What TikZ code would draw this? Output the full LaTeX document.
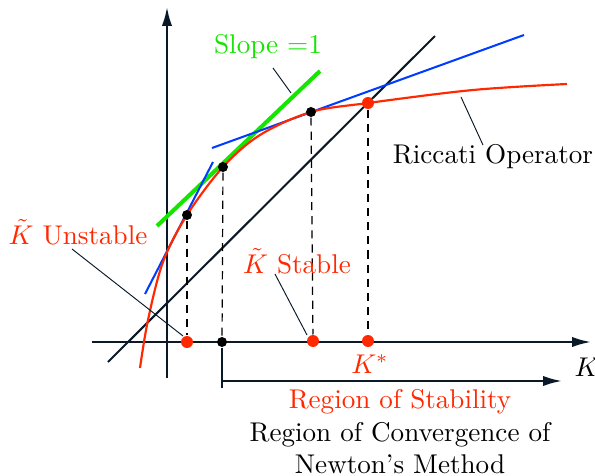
\documentclass[tikz,border=0pt]{standalone}
\usetikzlibrary{arrows.meta}
\definecolor{myred}{RGB}{255,40,0}
\definecolor{mygreen}{RGB}{20,230,0}
\definecolor{myblue}{RGB}{0,60,255}
\definecolor{axiscol}{RGB}{10,25,40}
\begin{document}
\begin{tikzpicture}[x=0.369pt,y=-0.369pt,
  axisline/.style={draw=axiscol,line width=0.8pt},
  leader/.style={draw=axiscol,line width=0.35pt},
  dashline/.style={draw=black,line width=0.45pt,dash pattern=on 3pt off 2.2pt},
  bdot/.style={circle,fill=black,inner sep=0pt,minimum size=3.7pt},
  rdot/.style={circle,fill=myred,inner sep=0pt,minimum size=4.4pt},
  lbl/.style={inner sep=0pt,font=\normalsize},
  tip/.style={-{Latex[length=7pt,width=3.8pt]}}]
\useasboundingbox (0,0) rectangle (595,476);
% axes
\coordinate (yb) at (167,378);
\coordinate (yt) at (167,7);
\coordinate (xl) at (92,342);
\coordinate (xr) at (591,342);
\draw[axisline,tip] (yb) -- (yt);
\draw[axisline,tip] (xl) -- (xr);
\node[lbl,anchor=west] (klab) at (574,367) {$K$};
% diagonal y=x
\coordinate (d1) at (108,362);
\coordinate (d2) at (435,36);
\draw[axiscol,line width=0.75pt] (d1) -- (d2);
% tangents
\coordinate (g1) at (157,226);
\coordinate (g2) at (320,71);
\draw[mygreen,line width=1.5pt] (g1) -- (g2);
\coordinate (b1) at (145,294);
\coordinate (b2) at (213,162);
\draw[myblue,line width=0.75pt] (b1) -- (b2);
\coordinate (b3) at (212,148);
\coordinate (b4) at (524,35);
\draw[myblue,line width=0.75pt] (b3) -- (b4);
% Riccati curve
\draw[myred,line width=0.8pt] plot[smooth,tension=0.55] coordinates {(140,368) (148,320) (163,262) (187,215) (223,167) (260,135) (311,112) (368,103) (473,90) (567,84)};
% points on curve
\node[bdot] (p1) at (187,215) {};
\node[bdot] (p2) at (223,167) {};
\node[bdot] (p3) at (311,112) {};
\node[rdot] (p4) at (368,103) {};
% points on axis
\node[rdot] (a1) at (187,342) {};
\node[bdot] (a2) at (222,342) {};
\node[rdot] (a3) at (313,341) {};
\node[rdot] (a4) at (368,341) {};
% dashed lines
\draw[dashline] (p1) -- (a1);
\draw[dashline] (p2) -- (a2);
\draw[dashline] (p3) -- (a3);
\draw[dashline] (p4) -- (a4);
% region arrow
\coordinate (rb) at (222,388);
\coordinate (rs) at (222,381);
\coordinate (re) at (562,381);
\draw[axisline] (a2) -- (rb);
\draw[axisline,tip] (rs) -- (re);
% labels
\node[lbl,text=mygreen] (slope) at (268,47) {Slope $=$1};
\coordinate (sl1) at (273,68);
\coordinate (sl2) at (291,93);
\draw[leader] (sl1) -- (sl2);
\node[lbl] (ric) at (493,157) {Riccati Operator};
\coordinate (rl1) at (461,97);
\coordinate (rl2) at (483,145);
\draw[leader] (rl1) -- (rl2);
\node[lbl,text=myred] (unst) at (78,232) {$\tilde K$ Unstable};
\coordinate (ul1) at (72,249);
\draw[leader] (ul1) -- (183,336);
\node[lbl,text=myred] (stab) at (297,261) {$\tilde K$ Stable};
\coordinate (stl1) at (275,274);
\coordinate (stl2) at (307,335);
\draw[leader] (stl1) -- (stl2);
\node[lbl,text=myred] (kstar) at (370,364) {$K^*$};
\node[lbl,text=myred] (ros) at (400,402) {Region of Stability};
\node[lbl] (roc) at (400,435) {Region of Convergence of};
\node[lbl] (nm) at (400,464) {Newton's Method};
\end{tikzpicture}
\end{document}
